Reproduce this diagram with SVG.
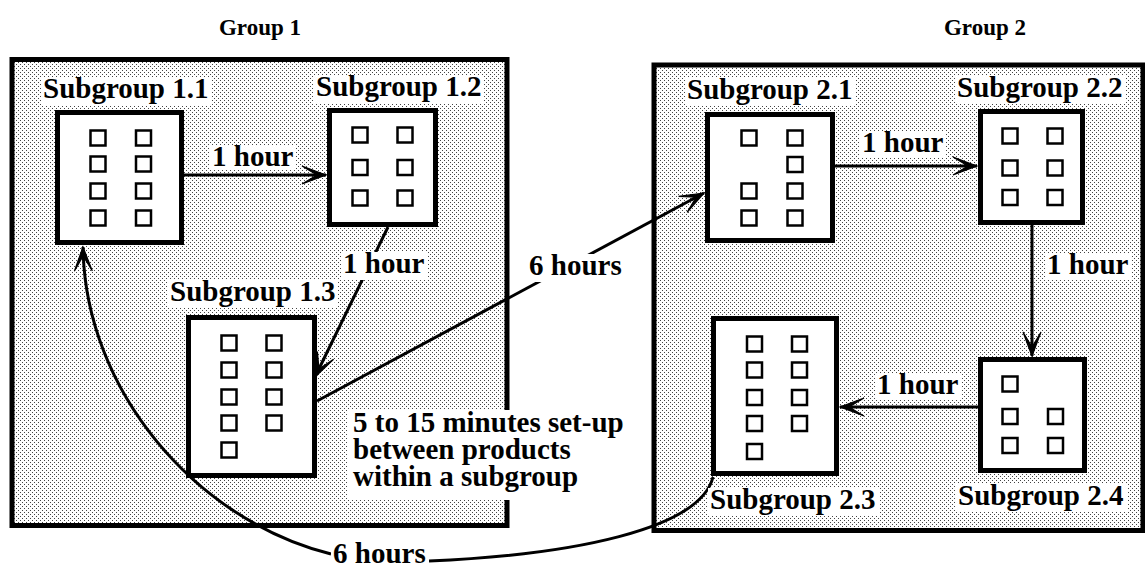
<svg xmlns="http://www.w3.org/2000/svg" width="1145" height="567" viewBox="0 0 1145 567">
<style>
text{font-family:"Liberation Serif","Times New Roman",serif;font-weight:bold;fill:#000}
.lbl{font-size:29px}
.title{font-size:23px}
.grp{fill:url(#dots);stroke:#000;stroke-width:5}
.sub{fill:#fff;stroke:#000;stroke-width:5}
.sq{fill:#fff;stroke:#000;stroke-width:2.5}
.bg{fill:#fff}
.con{fill:none;stroke:#000;stroke-width:3}
.arr{marker-end:url(#ah)}
</style>
<defs>
<pattern id="dots" width="4" height="4" patternUnits="userSpaceOnUse">
<rect width="4" height="4" fill="#fff"/>
<rect x="0" y="0" width="1" height="1" fill="#444"/>
<rect x="2" y="2" width="1" height="1" fill="#444"/>
</pattern>
<marker id="ah" markerUnits="userSpaceOnUse" markerWidth="40" markerHeight="40" viewBox="-30 -15 40 30" refX="0" refY="0" orient="auto" overflow="visible">
<path d="M0,0 L-24,-9 L-9,0 L-24,9 Z" fill="#000" stroke="#000" stroke-width="1.2" stroke-linejoin="miter"/>
</marker>
</defs>
<rect width="1145" height="567" fill="#fff"/>

<g id="group1">
<rect class="grp" x="12" y="59.5" width="495" height="466"/>
<text class="title" x="260" y="35" text-anchor="middle">Group 1</text>
</g>
<g id="group2">
<rect class="grp" x="654" y="65" width="489" height="465.5"/>
<text class="title" x="985" y="35" text-anchor="middle">Group 2</text>
</g>

<g id="connectors">
<path class="con arr" d="M184,175 L326,175"/>
<path class="con arr" d="M388,227 L315,377"/>
<path class="con arr" d="M317,401 L704,193"/>
<path class="con arr" d="M835,166 L977,166"/>
<path class="con arr" d="M1032,225 L1032,356"/>
<path class="con arr" d="M978,407 L840,407"/>
<path class="con arr" d="M331,554 C195,520 85,390 83,247"/>
<path class="con" d="M429,561 C570,555 700,530 713,477"/>
</g>

<g id="sub11">
<rect class="bg" x="41" y="77" width="170" height="28"/>
<text class="lbl" x="43" y="98">Subgroup 1.1</text>
<rect class="sub" x="57.5" y="112.5" width="124" height="130"/>
<rect class="sq" x="90.5" y="130.5" width="15" height="15"/>
<rect class="sq" x="90.5" y="156.5" width="15" height="15"/>
<rect class="sq" x="90.5" y="183.5" width="15" height="15"/>
<rect class="sq" x="90.5" y="210.5" width="15" height="15"/>
<rect class="sq" x="136" y="130.5" width="15" height="15"/>
<rect class="sq" x="136" y="156.5" width="15" height="15"/>
<rect class="sq" x="136" y="183.5" width="15" height="15"/>
<rect class="sq" x="136" y="210.5" width="15" height="15"/>
</g>

<g id="sub12">
<rect class="bg" x="314" y="75" width="170" height="28"/>
<text class="lbl" x="316" y="96">Subgroup 1.2</text>
<rect class="sub" x="329.5" y="110.5" width="106" height="114"/>
<rect class="sq" x="352.5" y="127.5" width="15" height="15"/>
<rect class="sq" x="352.5" y="160" width="15" height="15"/>
<rect class="sq" x="352.5" y="190.5" width="15" height="15"/>
<rect class="sq" x="397.5" y="127.5" width="15" height="15"/>
<rect class="sq" x="397.5" y="160" width="15" height="15"/>
<rect class="sq" x="397.5" y="190.5" width="15" height="15"/>
</g>

<g id="sub13">
<rect class="bg" x="168" y="280" width="170" height="28"/>
<text class="lbl" x="170" y="301">Subgroup 1.3</text>
<rect class="sub" x="188.5" y="317.5" width="126" height="158"/>
<rect class="sq" x="221.5" y="335.5" width="15" height="15"/>
<rect class="sq" x="221.5" y="362.5" width="15" height="15"/>
<rect class="sq" x="221.5" y="389.5" width="15" height="15"/>
<rect class="sq" x="221.5" y="415.5" width="15" height="15"/>
<rect class="sq" x="221.5" y="442.5" width="15" height="15"/>
<rect class="sq" x="266.5" y="335.5" width="15" height="15"/>
<rect class="sq" x="266.5" y="362.5" width="15" height="15"/>
<rect class="sq" x="266.5" y="389.5" width="15" height="15"/>
<rect class="sq" x="266.5" y="415.5" width="15" height="15"/>
</g>

<g id="sub21">
<rect class="bg" x="685" y="78" width="170" height="28"/>
<text class="lbl" x="687" y="99">Subgroup 2.1</text>
<rect class="sub" x="707.5" y="114.5" width="125" height="126"/>
<rect class="sq" x="741.5" y="130.5" width="15" height="15"/>
<rect class="sq" x="741.5" y="183.5" width="15" height="15"/>
<rect class="sq" x="741.5" y="210.5" width="15" height="15"/>
<rect class="sq" x="787.5" y="130.5" width="15" height="15"/>
<rect class="sq" x="787.5" y="157" width="15" height="15"/>
<rect class="sq" x="787.5" y="183.5" width="15" height="15"/>
<rect class="sq" x="787.5" y="210.5" width="15" height="15"/>
</g>

<g id="sub22">
<rect class="bg" x="955" y="76" width="170" height="28"/>
<text class="lbl" x="957" y="97">Subgroup 2.2</text>
<rect class="sub" x="980.5" y="111.5" width="102" height="111"/>
<rect class="sq" x="1002.5" y="128.5" width="15" height="15"/>
<rect class="sq" x="1002.5" y="160.5" width="15" height="15"/>
<rect class="sq" x="1002.5" y="190" width="15" height="15"/>
<rect class="sq" x="1047.5" y="128.5" width="15" height="15"/>
<rect class="sq" x="1047.5" y="160.5" width="15" height="15"/>
<rect class="sq" x="1047.5" y="190" width="15" height="15"/>
</g>

<g id="sub23">
<rect class="bg" x="708" y="488" width="171" height="28"/>
<text class="lbl" x="710" y="509">Subgroup 2.3</text>
<rect class="sub" x="713.5" y="318.5" width="123" height="155"/>
<rect class="sq" x="747" y="336.5" width="15" height="15"/>
<rect class="sq" x="747" y="362.5" width="15" height="15"/>
<rect class="sq" x="747" y="390" width="15" height="15"/>
<rect class="sq" x="747" y="416" width="15" height="15"/>
<rect class="sq" x="747" y="444" width="15" height="15"/>
<rect class="sq" x="792" y="336.5" width="15" height="15"/>
<rect class="sq" x="792" y="362.5" width="15" height="15"/>
<rect class="sq" x="792" y="390" width="15" height="15"/>
<rect class="sq" x="792" y="416" width="15" height="15"/>
</g>

<g id="sub24">
<rect class="bg" x="956" y="484" width="171" height="28"/>
<text class="lbl" x="958" y="505">Subgroup 2.4</text>
<rect class="sub" x="980.5" y="359.5" width="104" height="111"/>
<rect class="sq" x="1002.5" y="376.5" width="15" height="15"/>
<rect class="sq" x="1002.5" y="409" width="15" height="15"/>
<rect class="sq" x="1002.5" y="438" width="15" height="15"/>
<rect class="sq" x="1048" y="409" width="15" height="15"/>
<rect class="sq" x="1048" y="438" width="15" height="15"/>
</g>

<g id="labels">
<rect class="bg" x="210" y="145" width="86" height="25"/>
<text class="lbl" x="212" y="166">1 hour</text>
<rect class="bg" x="341" y="252" width="86" height="28"/>
<text class="lbl" x="343" y="273">1 hour</text>
<rect class="bg" x="527" y="254" width="97" height="28"/>
<text class="lbl" x="529" y="275">6 hours</text>
<rect class="bg" x="860" y="131" width="86" height="27"/>
<text class="lbl" x="862" y="152">1 hour</text>
<rect class="bg" x="1045" y="253" width="86" height="27"/>
<text class="lbl" x="1047" y="274">1 hour</text>
<rect class="bg" x="875" y="373" width="86" height="27"/>
<text class="lbl" x="877" y="394">1 hour</text>
<rect class="bg" x="331" y="541" width="98" height="26"/>
<text class="lbl" x="333" y="563">6 hours</text>
</g>

<g id="note">
<rect class="bg" x="348" y="410" width="284" height="90"/>
<text class="lbl" x="353" y="432">5 to 15 minutes set-up<tspan x="353" dy="27">between products</tspan><tspan x="353" dy="27">within a subgroup</tspan></text>
</g>
</svg>
